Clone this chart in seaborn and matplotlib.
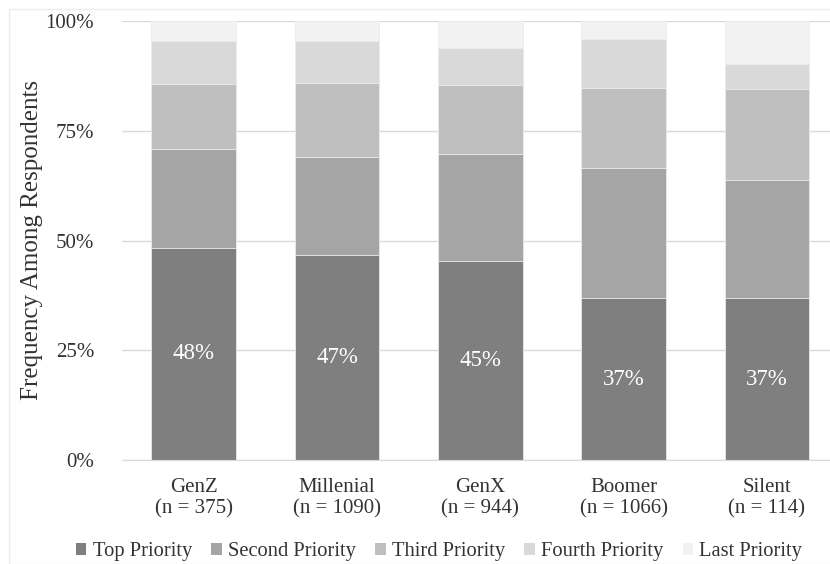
import numpy as np
import pandas as pd
import matplotlib

matplotlib.use('Agg')
import matplotlib.pyplot as plt
import seaborn as sns
from matplotlib.patches import Patch, Rectangle

generations = ['GenZ', 'Millenial', 'GenX', 'Boomer', 'Silent']
sample_sizes = [375, 1090, 944, 1066, 114]

priorities = ['Top Priority', 'Second Priority', 'Third Priority',
              'Fourth Priority', 'Last Priority']
top = [48.4, 46.8, 45.4, 36.9, 36.9]
second = [22.4, 22.2, 24.2, 29.7, 26.9]
third = [14.8, 16.8, 15.8, 18.2, 20.8]
fourth = [9.9, 9.6, 8.5, 11.1, 5.5]
last = [4.5, 4.6, 6.1, 4.1, 9.9]

colors = ['#7f7f7f', '#a5a5a5', '#bfbfbf', '#d9d9d9', '#f2f2f2']


def plot():
    sns.set_style('white')
    plt.rcParams['font.family'] = ['Liberation Serif', 'DejaVu Serif']

    labels = [f'{g}\n(n = {n})' for g, n in zip(generations, sample_sizes)]
    layers = np.array([top, second, third, fourth, last])
    cum = np.cumsum(layers, axis=0)

    fig = plt.figure(figsize=(8.3, 5.64), dpi=100)
    fig.patches.append(Rectangle((9 / 830, 0), 1, 1 - 9 / 564, transform=fig.transFigure,
                                 fill=False, edgecolor='#ececec', linewidth=1))
    ax = fig.add_axes([122 / 830, 1 - 460 / 564, 1 - 122 / 830, (460 - 21) / 564])

    # draw cumulative totals from the back so each layer shows its own share
    for i in range(len(priorities) - 1, -1, -1):
        df = pd.DataFrame({'group': labels, 'value': cum[i]})
        sns.barplot(data=df, x='group', y='value', color=colors[i], saturation=1,
                    width=0.59, ax=ax, zorder=2, edgecolor='#ececec', linewidth=0.6)

    for j, v in enumerate(top):
        ax.text(j, v / 2, f'{v:.0f}%', ha='center', va='center', color='white', fontsize=16.5)

    ax.set_ylim(0, 100)
    ax.set_xlim(-0.5, 4.44)
    ax.set_yticks([0, 25, 50, 75, 100])
    ax.set_yticklabels(['0%', '25%', '50%', '75%', '100%'])
    ax.grid(axis='y', color='#d9d9d9', linewidth=1, zorder=0)
    ax.set_axisbelow(True)
    for s in ['left', 'right', 'top']:
        ax.spines[s].set_visible(False)
    ax.spines['bottom'].set_color('#d9d9d9')
    ax.tick_params(axis='y', length=0, pad=20, labelsize=15, colors='#333333')
    ax.tick_params(axis='x', length=0, pad=13, labelsize=15, colors='#333333')
    for t in ax.get_xticklabels():
        t.set_linespacing(1.15)
    ax.set_xlabel('')
    ax.set_ylabel('Frequency Among Respondents', fontsize=18, color='#333333', labelpad=2)

    handles = [Patch(facecolor=c, edgecolor='none') for c in colors]
    fig.legend(handles, priorities, loc='center', bbox_to_anchor=(0.529, 0.022), ncol=5,
               frameon=False, fontsize=14.8, handlelength=0.5, handleheight=0.5,
               handletextpad=0.3, columnspacing=0.95, labelcolor='#333333')

    fig.savefig('out.png', dpi=100)


if __name__ == '__main__':
    plot()
